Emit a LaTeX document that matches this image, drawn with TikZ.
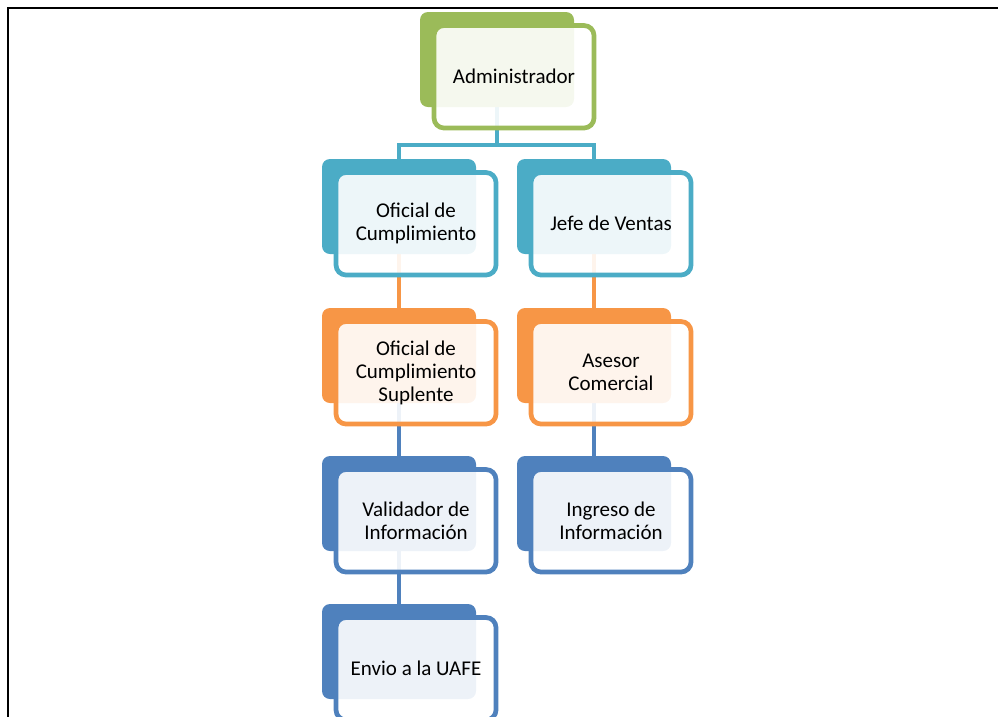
\documentclass[tikz,border=0pt]{standalone}
\usepackage{fontspec}
\setmainfont{Carlito}
\pgfdeclarelayer{links}
\pgfsetlayers{links,main}
\definecolor{cgreen}{HTML}{9BBB59}
\definecolor{cteal}{HTML}{4BACC6}
\definecolor{corange}{HTML}{F79646}
\definecolor{cblue}{HTML}{4F81BD}
\tikzset{
  backbox/.style={rectangle, rounded corners=8pt, fill=#1, draw=none,
    minimum width=154pt, minimum height=95pt, inner sep=0pt, outer sep=0pt,
    anchor=north west},
  frontbox/.style={rectangle, rounded corners=10pt, draw=#1, line width=4.7pt,
    fill=white, fill opacity=0.9, text opacity=1,
    minimum width=160pt, minimum height=102.5pt, inner sep=0pt, outer sep=0pt,
    anchor=north west, align=center, text=black,
    font=\fontsize{21pt}{23pt}\selectfont},
  link/.style={draw=#1, line width=4pt},
}
% one chart entry: back card at (x,y), framed card shifted right and down
\newcommand{\chartcard}[5]{%
  \node[backbox=#4] (#1b) at (#2,#3) {};
  \node[frontbox=#4] (#1) at (#2+14,#3+13.5) {#5};
}
\begin{document}
\begin{tikzpicture}[x=1pt,y=-1pt]
\useasboundingbox (0,0) rectangle (998,716);
\clip (0,0) rectangle (998,716);

% page frame
\draw[line width=2pt] (8,720) -- (8,8) -- (1000,8);

\chartcard{adm}{420}{12}{cgreen}{Administrador}
\chartcard{ofc}{322}{159}{cteal}{Oficial de\\Cumplimiento}
\chartcard{jef}{517}{159}{cteal}{Jefe de Ventas}
\chartcard{sup}{322}{308}{corange}{Oficial de\\Cumplimiento\\Suplente}
\chartcard{ase}{517}{308}{corange}{Asesor\\Comercial}
\chartcard{val}{322}{456}{cblue}{Validador de\\Información}
\chartcard{ing}{517}{456}{cblue}{Ingreso de\\Información}
\chartcard{env}{322}{604}{cblue}{Envio a la UAFE}

\begin{pgfonlayer}{links}
  \coordinate (split) at (497,145);
  \draw[link=cteal] (admb.center) -- (split);
  \draw[link=cteal] (ofcb.center) |- (split) -| (jefb.center);
  \draw[link=corange] (ofcb.center) -- (supb.center);
  \draw[link=corange] (jefb.center) -- (aseb.center);
  \draw[link=cblue] (supb.center) -- (valb.center);
  \draw[link=cblue] (valb.center) -- (envb.center);
  \draw[link=cblue] (aseb.center) -- (ingb.center);
\end{pgfonlayer}
\end{tikzpicture}
\end{document}
